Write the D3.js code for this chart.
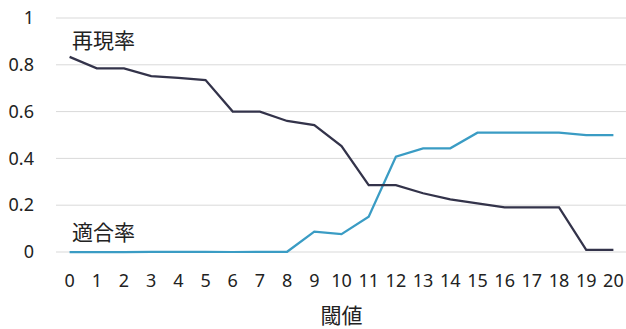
<!DOCTYPE html>
<html>
<head>
<meta charset="utf-8">
<script src="https://cdn.jsdelivr.net/npm/d3@7"></script>
<style>
  body { margin: 0; background: #fff; }
  svg text { font-family: "Noto Sans", "Noto Sans CJK JP", sans-serif; fill: #222; }
</style>
</head>
<body>
<script>
const thresholds = d3.range(0, 21).map(String);
const recall = [0.834, 0.785, 0.785, 0.752, 0.744, 0.735, 0.600, 0.600, 0.560, 0.542, 0.453,
  0.286, 0.286, 0.251, 0.225, 0.208, 0.191, 0.191, 0.191, 0.009, 0.009];
const precision = [0, 0, 0, 0.001, 0.001, 0.001, 0, 0.001, 0.001, 0.087, 0.076,
  0.151, 0.407, 0.443, 0.443, 0.51, 0.51, 0.51, 0.51, 0.5, 0.5];
const yTicks = [0, 0.2, 0.4, 0.6, 0.8, 1];

const width = 626, height = 329;
const plotLeft = 56, plotRight = 627, plotTop = 18, plotBottom = 252;

const svg = d3.select('body').append('svg')
  .attr('width', width)
  .attr('height', height);

const x = d3.scaleBand().domain(thresholds).range([plotLeft, plotRight]);
const y = d3.scaleLinear().domain([0, 1]).range([plotBottom, plotTop]);
const cx = d => x(d) + x.bandwidth() / 2;

// gridlines
svg.append('g')
  .selectAll('line')
  .data(yTicks)
  .join('line')
  .attr('x1', plotLeft)
  .attr('x2', plotRight)
  .attr('y1', d => y(d))
  .attr('y2', d => y(d))
  .attr('stroke', '#d9d9d9')
  .attr('stroke-width', 1);

// y axis labels
svg.append('g')
  .attr('transform', 'translate(34,0)')
  .call(d3.axisLeft(y).tickValues(yTicks).tickSize(0).tickPadding(0).tickFormat(d3.format('~g')))
  .call(g => g.select('.domain').remove())
  .selectAll('text')
  .style('font-size', '18px')
  .attr('fill', '#222');

// x axis labels
svg.append('g')
  .attr('transform', `translate(0,${plotBottom + 22})`)
  .call(d3.axisBottom(x).tickSize(0).tickPadding(0))
  .call(g => g.select('.domain').remove())
  .selectAll('text')
  .style('font-size', '18px')
  .attr('fill', '#222');

svg.append('text')
  .attr('x', (plotLeft + plotRight) / 2)
  .attr('y', 323)
  .attr('text-anchor', 'middle')
  .style('font-size', '21px')
  .text('閾値');

const line = d3.line()
  .x((d, i) => cx(thresholds[i]))
  .y(d => y(d));

svg.append('path')
  .datum(precision)
  .attr('d', line)
  .attr('fill', 'none')
  .attr('stroke', '#3a9cc4')
  .attr('stroke-width', 2.25);

svg.append('path')
  .datum(recall)
  .attr('d', line)
  .attr('fill', 'none')
  .attr('stroke', '#33334a')
  .attr('stroke-width', 2.25);

// series labels
svg.append('text')
  .attr('x', 72)
  .attr('y', 48)
  .style('font-size', '21px')
  .text('再現率');

svg.append('text')
  .attr('x', 72)
  .attr('y', 240)
  .style('font-size', '21px')
  .text('適合率');
</script>
</body>
</html>
